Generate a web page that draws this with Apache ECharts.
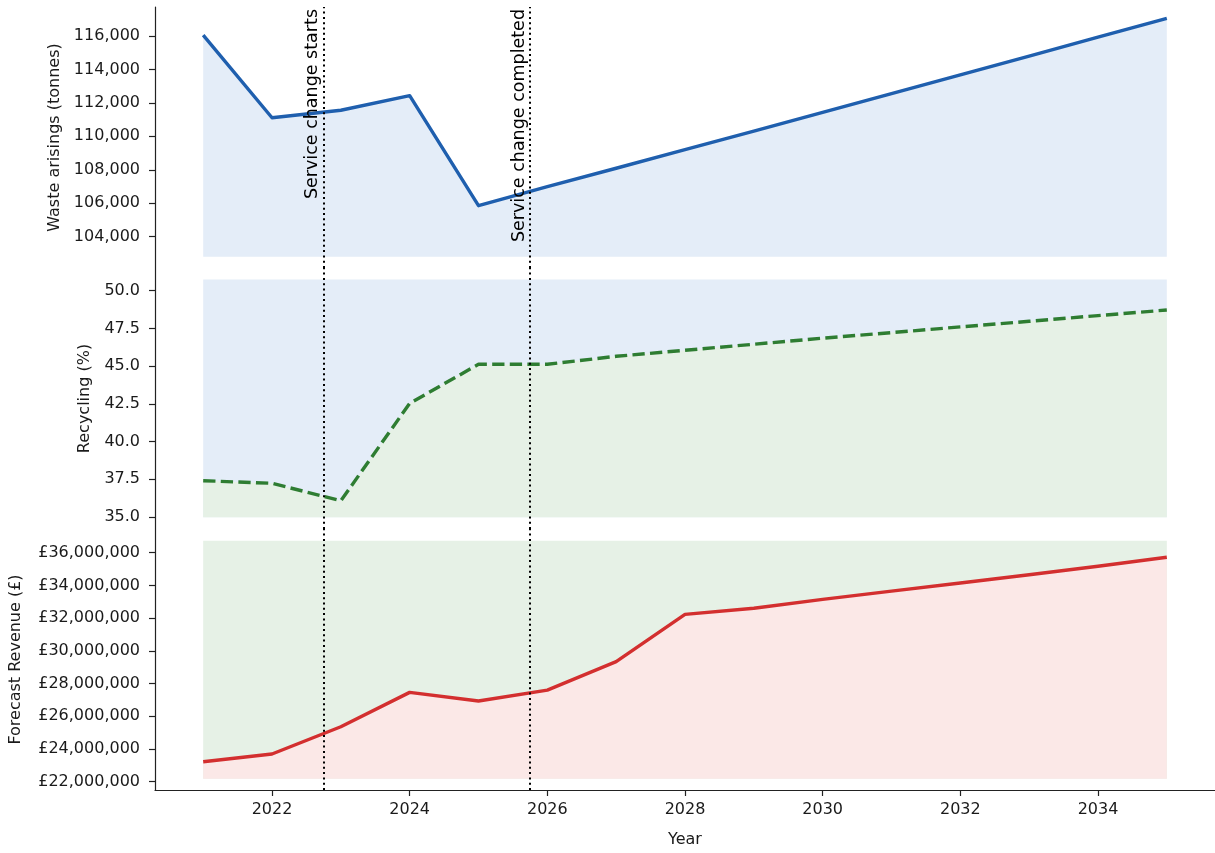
<!DOCTYPE html>
<html>
<head>
<meta charset="utf-8">
<script src="https://cdn.jsdelivr.net/npm/echarts@6/dist/echarts.min.js"></script>
<style>
html,body{margin:0;padding:0;background:#ffffff;}
#c{width:1215px;height:853px;}
</style>
</head>
<body>
<div id="c"></div>
<script>
// ---- data ----
const years = [2021,2022,2023,2024,2025,2026,2027,2028,2029,2030,2031,2032,2033,2034,2035];
const waste = [116050,111110,111560,112430,105850,106990,108090,109200,110310,111430,112550,113680,114800,115930,117060];
const recycling = [37.40,37.23,36.07,42.53,45.12,45.12,45.65,46.05,46.45,46.85,47.22,47.60,47.97,48.35,48.72];
const revenue = [23220000,23690000,25360000,27460000,26930000,27600000,29340000,32230000,32600000,33150000,33650000,34150000,34650000,35170000,35720000];
const xTicks = [2022,2024,2026,2028,2030,2032,2034];
const wasteTicks = [104000,106000,108000,110000,112000,114000,116000];
const recyclingTicks = [35,37.5,40,42.5,45,47.5,50];
const revenueTicks = [22000000,24000000,26000000,28000000,30000000,32000000,34000000,36000000];
const eventYears = [2022.75, 2025.75];
const eventLabels = ['Service change starts', 'Service change completed'];

// ---- styling ----
const FONT = 'DejaVu Sans';
const AX = '#222222';
const BLUE = '#1f5fae', GREEN = '#2e7d32', RED = '#d32f2f';
const BLUE_F = '#e4edf8', GREEN_F = '#e6f1e6', RED_F = '#fbe8e7';

const chart = echarts.init(document.getElementById('c'), null, {renderer:'canvas'});

const grids = [
  {left:155, right:0, top:7, height:261},
  {left:155, right:0, top:268, height:261},
  {left:155, right:0, top:529, height:261}
];
const yRanges = [[102124,117734],[34.198,51.505],[21491000,37449000]];
const fillRanges = [[102800,null],[34.97,50.75],[22182000,36734000]];

function pairs(vals){ return years.map((y,i)=>[y, vals[i]]); }

const xAxes = grids.map((g,i)=>({
  type:'value', gridIndex:i, min:2020.3, max:2035.7,
  show: i===2,
  axisLine:{show:i===2, onZero:false, lineStyle:{color:AX, width:1.2}},
  axisTick:{show:i===2, length:6, lineStyle:{color:AX, width:1.2}, customValues:xTicks},
  axisLabel:{show:i===2, customValues:xTicks, formatter:v=>String(v), fontFamily:FONT, fontSize:16, color:'#1a1a1a', margin:12},
  splitLine:{show:false},
  name: i===2 ? 'Year' : '',
  nameLocation:'middle', nameGap:42,
  nameTextStyle:{fontFamily:FONT, fontSize:16, color:'#1a1a1a'}
}));

const fmts = [
  v=>v.toLocaleString('en-GB'),
  v=>v.toFixed(1),
  v=>'£'+v.toLocaleString('en-GB')
];
const tickSets = [wasteTicks, recyclingTicks, revenueTicks];
const names = ['Waste arisings (tonnes)','Recycling (%)','Forecast Revenue (£)'];
const nameGaps = [92, 62, 131];

const yAxes = grids.map((g,i)=>({
  type:'value', gridIndex:i, min:yRanges[i][0], max:yRanges[i][1],
  axisLine:{show:true, onZero:false, lineStyle:{color:AX, width:1.2}},
  axisTick:{show:true, length:6, lineStyle:{color:AX, width:1.2}, customValues:tickSets[i]},
  axisLabel:{customValues:tickSets[i], formatter:fmts[i], fontFamily:FONT, fontSize:16, color:'#1a1a1a', margin:15},
  splitLine:{show:false},
  name:names[i], nameLocation:'middle', nameGap:nameGaps[i], nameRotate:90,
  nameTextStyle:{fontFamily:FONT, fontSize:16, color:'#1a1a1a'}
}));

const series = [];
// background bands (upper colour) for middle and bottom panels
[[1,BLUE_F],[2,GREEN_F]].forEach(([i,col])=>{
  series.push({
    type:'line', xAxisIndex:i, yAxisIndex:i, data:[], z:1, silent:true,
    markArea:{silent:true, itemStyle:{color:col, opacity:1},
      data:[[{xAxis:years[0], yAxis:fillRanges[i][0]},{xAxis:years[years.length-1], yAxis:fillRanges[i][1]}]]}
  });
});
// data lines with lower-colour fills
const lineDefs = [
  {vals:waste, color:BLUE, fill:BLUE_F, type:'solid', name:'Waste arisings'},
  {vals:recycling, color:GREEN, fill:GREEN_F, type:[12.3,5.3], name:'Recycling'},
  {vals:revenue, color:RED, fill:RED_F, type:'solid', name:'Forecast Revenue'}
];
lineDefs.forEach((d,i)=>{
  series.push({
    name:d.name, type:'line', xAxisIndex:i, yAxisIndex:i, data:pairs(d.vals),
    showSymbol:false, symbol:'none', z:2,
    lineStyle:{color:d.color, width:3.4, type:d.type, join:'round'},
    areaStyle:{color:d.fill, opacity:1, origin:fillRanges[i][0]}
  });
});
// vertical event lines
grids.forEach((g,i)=>{
  series.push({
    type:'line', xAxisIndex:i, yAxisIndex:i, data:[], z:5, silent:true,
    markLine:{
      silent:true, symbol:['none','none'], animation:false,
      lineStyle:{color:'#000', width:2, type:[2,3.3]},
      data: eventYears.map((x,k)=>({
        xAxis:x,
        label: i===0 ? {show:true, position:'insideEndTop', formatter:eventLabels[k],
                        fontFamily:FONT, fontSize:17.5, color:'#000', distance:2}
                     : {show:false}
      }))
    }
  });
});

chart.setOption({
  animation:false,
  backgroundColor:'#ffffff',
  grid:grids,
  xAxis:xAxes,
  yAxis:yAxes,
  series:series
});
</script>
</body>
</html>
